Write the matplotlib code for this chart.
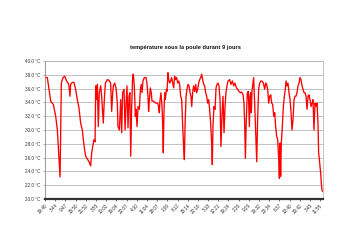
import matplotlib
matplotlib.use("Agg")
import matplotlib.pyplot as plt
import numpy as np

plt.rcParams['font.family'] = ['Liberation Sans', 'DejaVu Sans']

title = "température sous la poule durant 9 jours"

# elapsed time (hours) and temperature (°C)
heures_1 = [0.0, 1.8, 3.1, 4.4, 6.5, 8.3, 9.6, 10.9, 11.7, 12.7, 14.0, 15.3, 16.8, 17.9,
            18.6, 19.4, 19.9, 21.2, 22.5, 23.8, 25.1, 26.4, 27.7, 29.0, 29.8, 30.8, 31.6,
            32.9, 34.2, 35.5, 36.3, 37.3, 38.1, 38.9, 39.4, 40.1, 40.7, 41.4, 42.2, 43.3,
            44.0, 44.8, 45.3, 46.1, 46.9, 48.4, 49.7, 51.0, 51.8, 52.6, 53.1, 54.1, 55.2,
            56.2, 56.7, 57.8, 58.8, 59.6, 60.3, 61.4, 62.2, 62.9, 63.7, 64.5, 65.3, 66.0,
            66.6, 67.3, 68.1, 68.6, 69.4, 70.2]
temp_1 = [37.6, 37.6, 35.9, 34.2, 33.7, 32.0, 30.0, 25.7, 23.2, 36.8, 37.6, 37.8, 37.1, 36.8,
          36.4, 34.9, 36.6, 36.9, 36.9, 35.9, 34.4, 33.2, 31.0, 30.0, 28.6, 27.1, 26.2,
          25.8, 25.4, 24.8, 26.7, 27.9, 28.6, 28.3, 36.4, 34.4, 36.6, 30.5, 35.4, 36.4,
          34.9, 32.5, 31.0, 34.4, 36.8, 37.3, 37.2, 36.8, 32.7, 35.4, 36.4, 36.8, 36.1,
          33.9, 30.5, 30.0, 34.4, 29.6, 35.4, 35.9, 30.0, 33.4, 36.4, 30.3, 34.9, 35.4,
          26.2, 33.0, 37.8, 38.1, 36.4, 32.0]

heures_2 = [70.7, 71.5, 72.3, 73.3, 74.1, 74.8, 75.4, 76.1, 77.2, 78.5, 79.2, 80.0, 80.5,
            81.1, 81.8, 82.6, 83.1, 84.2, 85.2, 86.2, 87.5, 88.3, 88.8, 89.3, 90.1, 90.9,
            91.4, 91.9, 92.5, 93.0, 93.5, 94.3, 94.8, 95.6, 96.1, 96.9, 97.6, 98.4, 99.2,
            100.0, 100.7, 101.5, 102.3, 103.1, 103.9, 104.6, 105.4, 106.2, 107.0, 107.7,
            108.3, 108.8, 109.6, 110.3, 111.1, 111.9, 112.7, 113.4, 114.0, 114.7, 115.5,
            116.3, 117.1, 117.8, 118.6, 119.4, 120.2, 121.0, 121.7, 122.5, 123.3, 124.1,
            124.8, 125.6, 126.4, 127.2, 127.9, 128.7, 129.5, 130.0, 130.5, 131.3, 132.1,
            132.9, 133.6, 134.4, 135.2, 136.0, 136.7, 137.5, 138.3, 139.1, 139.9, 140.6,
            141.4]
temp_2 = [33.0, 30.5, 33.4, 33.0, 35.9, 36.6, 35.4, 37.1, 37.6, 37.6, 36.8, 34.9, 32.7,
          34.4, 36.1, 35.4, 34.2, 34.2, 34.0, 33.9, 33.9, 33.4, 32.5, 34.2, 35.4, 33.4,
          31.0, 26.7, 33.0, 35.4, 34.4, 35.9, 35.6, 38.3, 37.3, 36.8, 37.1, 37.6, 36.8,
          36.1, 37.8, 37.3, 37.6, 36.8, 37.1, 36.6, 34.9, 34.4, 30.5, 27.6, 25.7, 30.5,
          34.9, 35.9, 36.6, 36.4, 35.4, 34.9, 33.4, 35.4, 36.4, 35.6, 36.6, 35.4, 35.9,
          36.8, 37.3, 37.6, 38.1, 37.3, 36.6, 36.4, 35.4, 34.9, 33.9, 34.4, 33.0, 31.0,
          28.1, 25.0, 30.5, 33.4, 33.0, 36.1, 36.6, 36.8, 36.4, 34.4, 27.6, 32.0, 34.9,
          29.6, 33.4, 35.4, 36.4]

heures_3 = [142.2, 143.5, 144.5, 145.6, 146.6, 147.6, 148.7, 149.7, 150.7, 151.8, 152.8,
            153.9, 154.6, 155.2, 155.7, 156.4, 157.2, 158.0, 158.8, 159.3, 159.8, 160.3,
            160.8, 161.6, 162.1, 162.9, 163.7, 164.5, 165.2, 166.0, 166.8, 167.6, 168.6,
            169.7, 170.7, 171.5, 172.2, 173.0, 173.8, 174.6, 175.4, 176.1, 176.9, 177.7,
            178.5, 179.2, 180.0, 180.8, 181.6, 182.1, 182.6, 183.1, 183.6, 184.4, 185.2,
            186.0, 186.7, 187.3, 188.0, 188.8, 189.6, 190.4, 191.2, 191.9, 192.7, 193.5,
            194.3, 195.0, 195.8, 196.6, 197.4, 198.1, 198.9, 199.7, 200.5, 201.3, 202.0,
            202.8, 203.6, 204.4, 205.1, 205.9, 206.7, 207.5, 208.2, 209.0, 209.8, 210.6,
            211.4, 212.1, 212.6, 213.2, 213.7, 214.2, 214.7, 215.2, 215.8]
temp_3 = [37.1, 37.3, 36.6, 37.1, 36.4, 36.8, 36.1, 35.9, 35.6, 35.4, 35.5, 35.1, 33.9,
          30.5, 25.9, 31.5, 35.4, 35.6, 30.5, 34.9, 35.4, 32.5, 35.6, 36.8, 37.6, 33.9,
          29.6, 25.4, 31.5, 35.9, 36.8, 37.1, 37.1, 36.8, 35.9, 36.8, 36.6, 35.9, 33.9,
          34.9, 35.1, 33.9, 33.7, 32.0, 32.5, 30.5, 29.1, 28.6, 25.7, 23.0, 28.1, 23.3,
          28.1, 30.5, 33.4, 34.9, 35.9, 37.1, 36.4, 36.8, 35.4, 34.4, 32.5, 30.0, 31.5,
          34.4, 34.9, 34.9, 35.4, 36.4, 36.8, 37.6, 37.3, 36.4, 35.9, 35.4, 35.4, 34.9,
          33.0, 34.9, 35.1, 34.4, 33.4, 33.9, 34.4, 30.0, 33.9, 33.4, 33.9, 31.0, 26.7,
          25.7, 24.7, 23.7, 22.3, 21.3, 21.1]

tick_labels = ["19:40", "3:44", "9:47", "15:50", "21:52", "3:55", "10:02", "16:04",
               "22:07", "4:10", "11:04", "18:07", "1:09", "8:12", "15:14", "22:16",
               "5:18", "12:21", "19:24", "2:26", "9:29", "16:32", "23:34", "6:37",
               "13:40", "20:42", "3:45", "11:55"]
y_ticks = [20, 22, 24, 26, 28, 30, 32, 34, 36, 38, 40]
duree_totale = 216.0

heures = heures_1 + heures_2 + heures_3
temps = temp_1 + temp_2 + temp_3

fig = plt.figure(figsize=(3.5, 2.5), dpi=100)
ax = fig.add_axes([45 / 350, 1 - 199 / 250, 278 / 350, 138 / 250])

ax.plot(heures, temps, color="#ff0000", linewidth=0.95, solid_joinstyle="round")

ax.set_xlim(0, duree_totale)
ax.set_ylim(20, 40)
ax.set_yticks(y_ticks)
ax.set_yticklabels([f"{v:.1f} °C" for v in y_ticks], fontsize=3.3, color="#333333")
tick_pos = np.linspace(0, duree_totale * 0.99, len(tick_labels))
ax.set_xticks(tick_pos)
ax.set_xticklabels(tick_labels, rotation=45, ha="right", rotation_mode="anchor",
                   fontsize=3.3, color="#333333")
ax.tick_params(axis="x", length=1.5, width=0.5, color="#333333", pad=1.5)
ax.tick_params(axis="y", length=1.5, width=0.5, color="#888888", pad=1.5)

ax.grid(axis="y", color="#b8b8b8", linewidth=0.6)
ax.set_axisbelow(True)
for side in ("top", "right"):
    ax.spines[side].set_color("#b8b8b8")
    ax.spines[side].set_linewidth(0.6)
ax.spines["left"].set_color("#888888")
ax.spines["left"].set_linewidth(0.6)
ax.spines["bottom"].set_color("#333333")
ax.spines["bottom"].set_linewidth(1.6)

fig.text(185 / 350, 1 - 47 / 250, title, ha="center", va="center",
         fontsize=4.1, fontweight="bold", color="#111111")

fig.savefig("out.png", dpi=100, facecolor="white")
